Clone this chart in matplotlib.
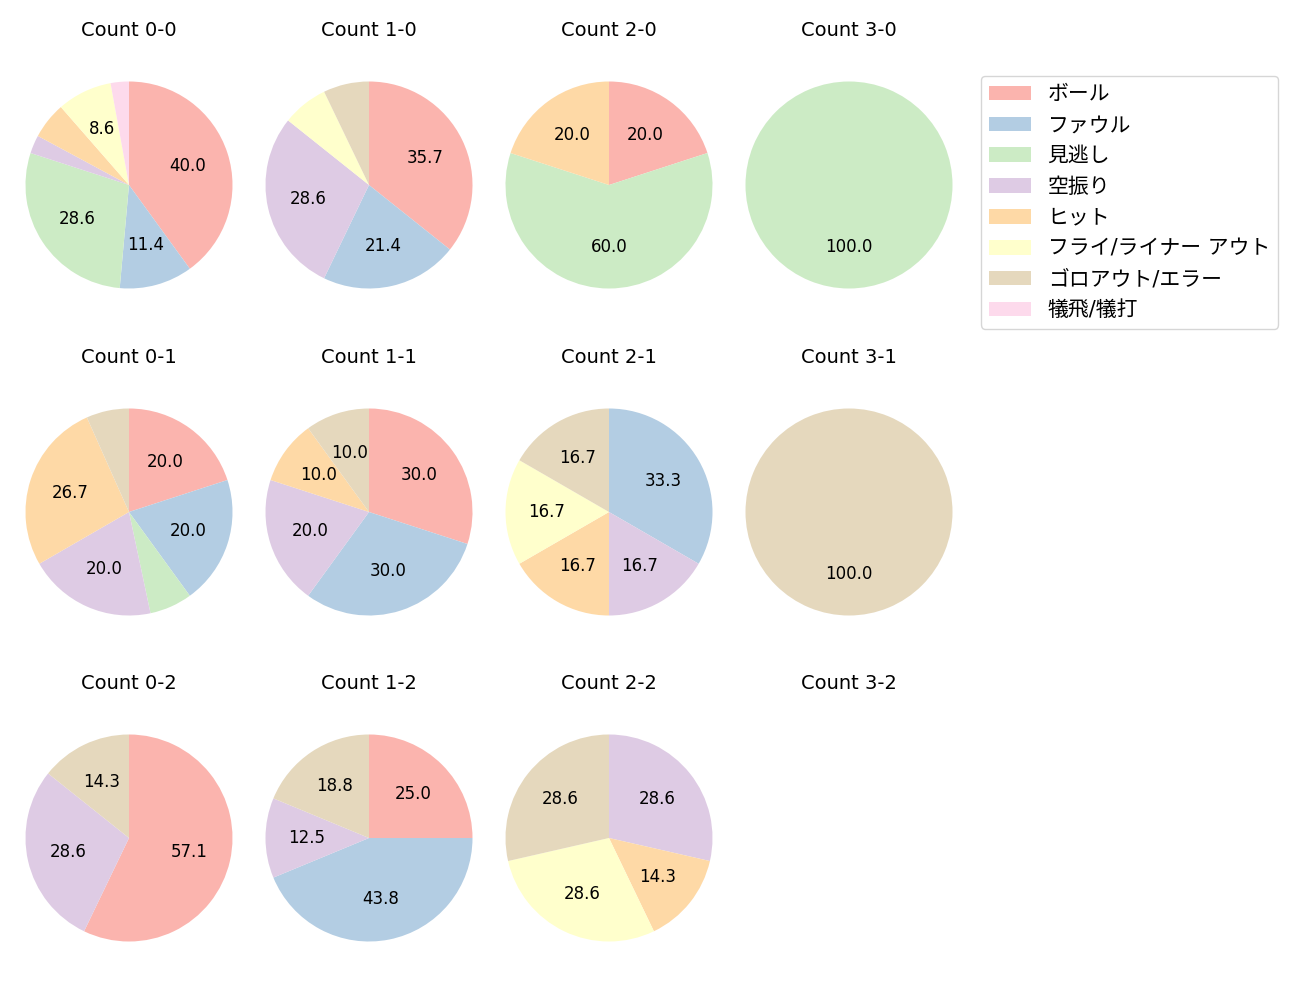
import matplotlib
matplotlib.use("Agg")
from matplotlib import pyplot as plt

plt.rcParams['font.family'] = ['DejaVu Sans', 'Noto Sans CJK JP']

categories = ["ボール", "ファウル", "見逃し", "空振り", "ヒット",
              "フライ/ライナー アウト", "ゴロアウト/エラー", "犠飛/犠打"]
colors = plt.get_cmap("Pastel1").colors[:8]

titles = ["Count 0-0", "Count 1-0", "Count 2-0", "Count 3-0",
          "Count 0-1", "Count 1-1", "Count 2-1", "Count 3-1",
          "Count 0-2", "Count 1-2", "Count 2-2", "Count 3-2"]

# counts per category, same order as categories
count_0_0 = [14, 4, 10, 1, 2, 3, 0, 1]
count_1_0 = [5, 3, 0, 4, 0, 1, 1, 0]
count_2_0 = [1, 0, 3, 0, 1, 0, 0, 0]
count_3_0 = [0, 0, 1, 0, 0, 0, 0, 0]
count_0_1 = [3, 3, 1, 3, 4, 0, 1, 0]
count_1_1 = [3, 3, 0, 2, 1, 0, 1, 0]
count_2_1 = [0, 2, 0, 1, 1, 1, 1, 0]
count_3_1 = [0, 0, 0, 0, 0, 0, 1, 0]
count_0_2 = [4, 0, 0, 2, 0, 0, 1, 0]
count_1_2 = [4, 7, 0, 2, 0, 0, 3, 0]
count_2_2 = [0, 0, 0, 2, 1, 2, 2, 0]
count_3_2 = []

data = [count_0_0, count_1_0, count_2_0, count_3_0,
        count_0_1, count_1_1, count_2_1, count_3_1,
        count_0_2, count_1_2, count_2_2, count_3_2]

W, H = 1300, 1000
fig = plt.figure(figsize=(13, 10), dpi=100)

col_x = [129, 369, 609, 849]
row_y = [185, 512, 838]
box = 240
r_px = 103.5

legend_handles = None
for i, (title, vals) in enumerate(zip(titles, data)):
    cx = col_x[i % 4]
    cy = row_y[i // 4]
    ax = fig.add_axes([(cx - box / 2) / W, 1 - (cy + box / 2) / H, box / W, box / H])
    ax.set_title(title, fontsize=14, pad=21)
    if not vals:
        ax.axis("off")
        continue
    wedges, texts, autotexts = ax.pie(
        vals, colors=colors, startangle=90, counterclock=False,
        autopct=lambda p: f"{p:.1f}" if p >= 8 else "",
        textprops={"fontsize": 12})
    lim = box / 2 / r_px
    ax.set_xlim(-lim, lim)
    ax.set_ylim(-lim, lim)
    if legend_handles is None:
        legend_handles = wedges

fig.legend(legend_handles, categories, loc="upper left",
           bbox_to_anchor=(981 / W, 1 - 76 / H), borderaxespad=0,
           fontsize=15, labelspacing=0.52)

plt.savefig("out.png")
